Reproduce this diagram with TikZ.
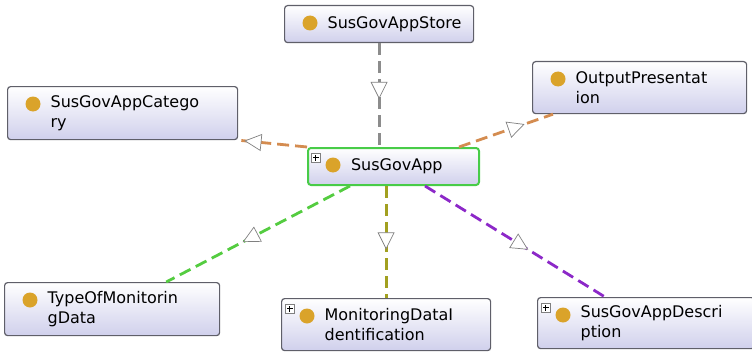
\documentclass[tikz,border=0pt]{standalone}
\usepackage{fontspec}
\setmainfont{DejaVu Sans}
\usepackage{tikz}
\usetikzlibrary{positioning, decorations.markings}

\definecolor{dotgold}{RGB}{218,163,42}
\definecolor{boxedge}{RGB}{95,95,105}
\definecolor{boxlav}{RGB}{208,208,236}
\definecolor{appgreen}{RGB}{72,204,72}
\definecolor{lgray}{RGB}{140,140,140}
\definecolor{lorange}{RGB}{212,140,80}
\definecolor{lgreen}{RGB}{84,204,64}
\definecolor{lolive}{RGB}{162,160,32}
\definecolor{lpurple}{RGB}{140,40,200}

\begin{document}
\begin{tikzpicture}[x=1pt, y=-1pt,
    cls/.style={rectangle, draw=boxedge, line width=1.2pt, rounded corners=3pt,
      top color=white, bottom color=boxlav, anchor=north west, align=left,
      inner xsep=43pt, inner ysep=0pt, font=\fontsize{16}{20}\selectfont},
    dot/.style={circle, fill=dotgold, minimum size=15pt, inner sep=0pt},
    plusbox/.style={rectangle, draw=gray, fill=white, line width=0.6pt, minimum size=9pt,
      inner sep=0pt, anchor=north west,
      path picture={\draw[black, line width=0.9pt]
        ([xshift=1.8pt]path picture bounding box.west) -- ([xshift=-1.8pt]path picture bounding box.east)
        ([yshift=-1.8pt]path picture bounding box.north) -- ([yshift=1.8pt]path picture bounding box.south);}},
    link/.style={draw=#1, line width=2.8pt, dash pattern=on 12pt off 6pt},
    midtip/.style={postaction={decorate, decoration={markings, mark=at position #1 with
      {\draw[solid, draw=gray, fill=white, line width=0.7pt] (0,0) -- (-16pt,8pt) -- (-16pt,-8pt) -- cycle;}}}}]
  \useasboundingbox (0,0) rectangle (752,353);

  % classes
  \node[cls, minimum width=189pt, minimum height=37pt, text width=103pt] (store) at (284,5) {SusGovAppStore};
  \node[cls, minimum width=230pt, minimum height=53pt, text width=144pt] (cat) at (7,86) {SusGovAppCatego\\ry};
  \node[cls, minimum width=214pt, minimum height=52pt, text width=128pt] (out) at (532,61) {OutputPresentat\\ion};
  \node[cls, draw=appgreen, line width=2pt, minimum width=171pt, minimum height=37pt, text width=85pt] (app) at (307,147) {SusGovApp};
  \node[cls, minimum width=215pt, minimum height=53pt, text width=129pt] (type) at (4,282) {TypeOfMonitorin\\gData};
  \node[cls, minimum width=209pt, minimum height=52pt, text width=123pt] (ident) at (281,298) {MonitoringDataI\\dentification};
  \node[cls, minimum width=217pt, minimum height=51pt, text width=131pt] (desc) at (537,297) {SusGovAppDescri\\ption};

  \foreach \n in {store, cat, out, app, type, ident, desc}
    \node[dot] (\n-dot) at ([xshift=26pt, yshift=-18pt]\n.north west) {};
  \foreach \n in {app, ident, desc}
    \node[plusbox] (\n-plus) at ([xshift=4pt, yshift=-6pt]\n.north west) {};

  % links
  \path (store.south) edge[link=lgray, midtip=0.53] (store.south |- app.north);
  \path (app.north west) edge[link=lorange, midtip=0.9] (cat.south east);
  \path ([xshift=-21pt]app.north east) edge[link=lorange, midtip=0.69] ([xshift=21pt]out.south west);
  \path ([xshift=43pt]app.south west) edge[link=lgreen, midtip=0.58] ([xshift=-54pt]type.north east);
  \path (app.south -| ident.north) edge[link=lolive, midtip=0.56] (ident.north);
  \path ([xshift=-55pt]app.south east) edge[link=lpurple, midtip=0.57] ([xshift=68pt]desc.north west);
\end{tikzpicture}
\end{document}
